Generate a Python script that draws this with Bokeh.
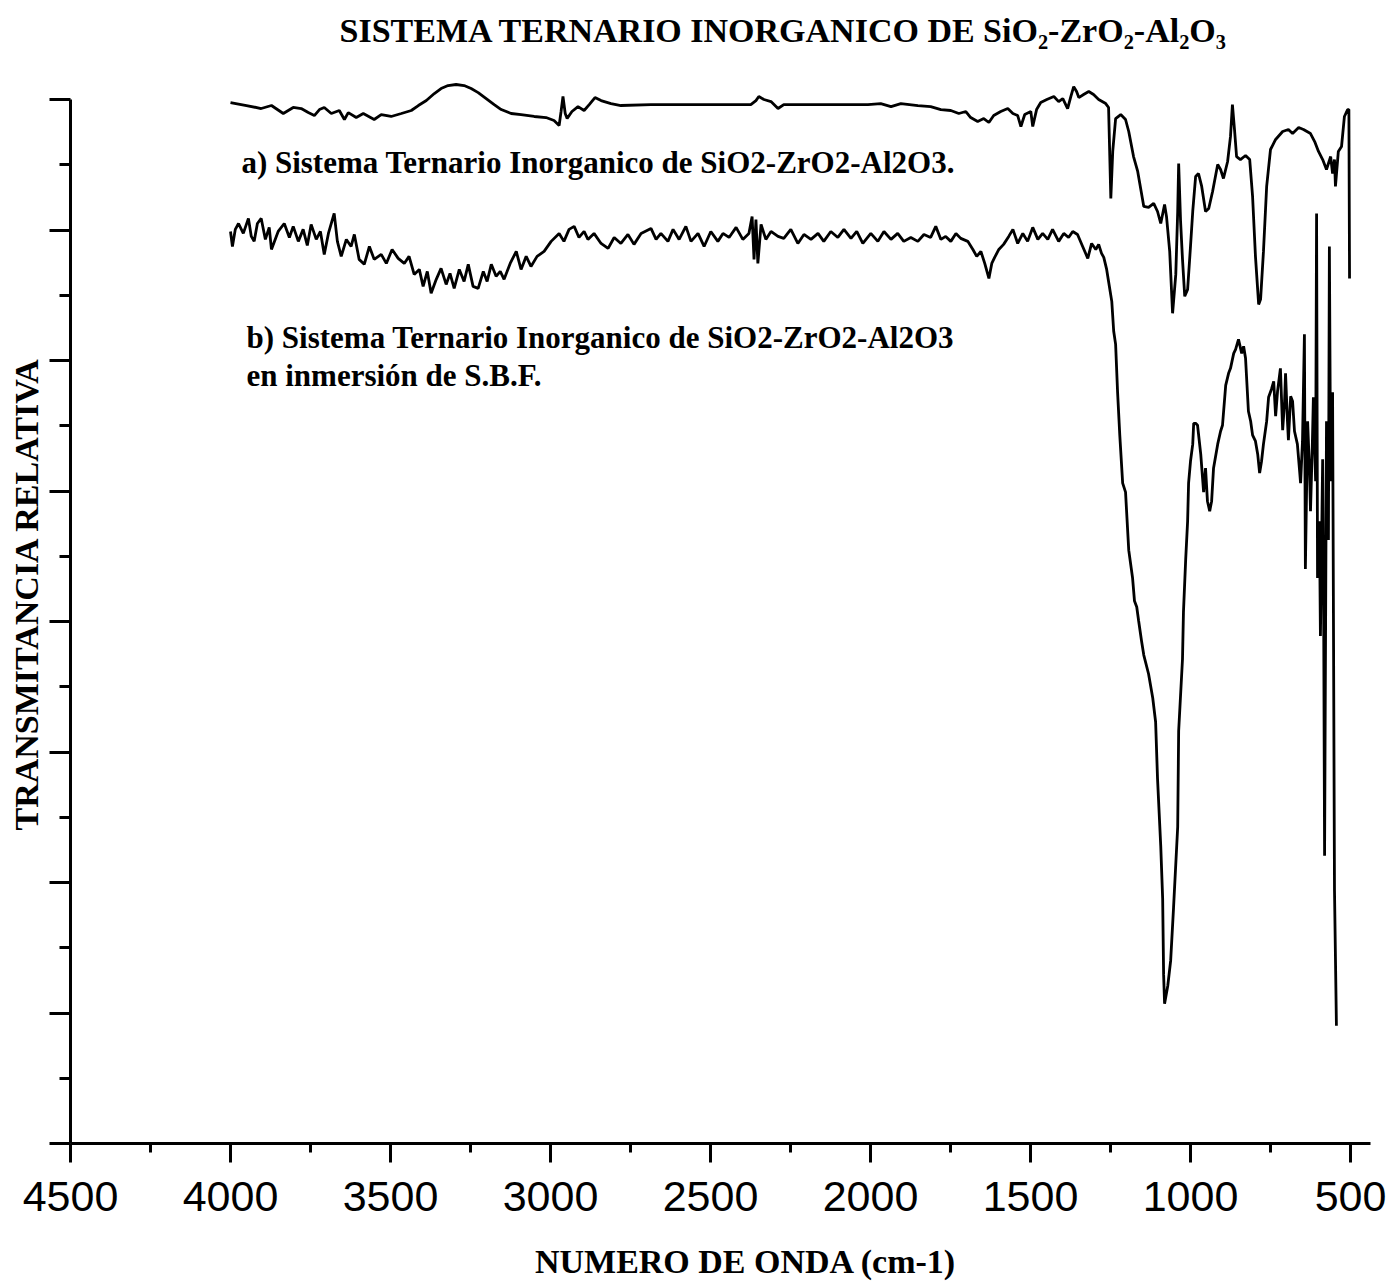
from bokeh.plotting import figure
from bokeh.models import FixedTicker, Label, Title, Range1d
from bokeh.embed import file_html
from bokeh.resources import INLINE

# ---- data ----
x_ticks = [4500, 4000, 3500, 3000, 2500, 2000, 1500, 1000, 500]
x_minor = [4250, 3750, 3250, 2750, 2250, 1750, 1250, 750]
y_ticks = [0, 10, 20, 30, 40, 50, 60, 70, 80]
y_minor = [5, 15, 25, 35, 45, 55, 65, 75]

# a) SiO2-ZrO2-Al2O3
wn_a = [4000, 3950, 3904, 3872, 3835, 3804, 3779, 3757, 3738, 3722, 3707, 3685, 3660, 3644, 3632,
        3607, 3585, 3551, 3529, 3498, 3466, 3435, 3413, 3388, 3363, 3342, 3320, 3295, 3270, 3248,
        3226, 3201, 3176, 3154, 3123, 3092, 3051, 3014, 2989, 2973, 2967, 2961, 2954, 2948, 2933,
        2914, 2895, 2879, 2861, 2842, 2811, 2780, 2686, 2530, 2374, 2358, 2349, 2333, 2311, 2289,
        2271, 2124, 2008, 1968, 1936, 1905, 1852, 1812, 1780, 1749, 1724, 1702, 1687, 1665, 1646,
        1630, 1615, 1593, 1571, 1555, 1540, 1530, 1518, 1499, 1493, 1481, 1468, 1449, 1427, 1412,
        1399, 1384, 1374, 1365, 1356, 1349, 1334, 1318, 1303, 1287, 1265, 1256, 1249, 1243, 1234,
        1218, 1203, 1193, 1178, 1165, 1146, 1131, 1115, 1103, 1093, 1081, 1075, 1065, 1056, 1046,
        1040, 1037, 1031, 1025, 1018, 1009, 1000, 993, 984, 975, 965, 953, 943, 931, 915,
        906, 897, 884, 875, 869, 862, 856, 844, 828, 815, 806, 797, 787, 781, 772,
        762, 750, 734, 712, 694, 681, 662, 647, 625, 612, 600, 587, 575, 562, 556,
        550, 547, 538, 528, 519, 509, 505, 503]
t_a = [79.77, 79.54, 79.31, 79.54, 78.93, 79.39, 79.31, 79.00, 78.77, 79.23, 79.39, 78.93, 79.16, 78.47, 79.00,
       78.62, 78.93, 78.47, 78.85, 78.70, 78.93, 79.16, 79.54, 79.92, 80.46, 80.84, 81.07, 81.15, 81.07, 80.84,
       80.53, 80.07, 79.61, 79.23, 78.93, 78.85, 78.70, 78.62, 78.39, 78.01, 79.08, 80.23, 78.93, 78.54, 79.08,
       79.46, 79.16, 79.61, 80.15, 79.92, 79.69, 79.54, 79.61, 79.61, 79.61, 79.92, 80.23, 80.00, 79.84, 79.31,
       79.61, 79.61, 79.61, 79.69, 79.46, 79.69, 79.54, 79.46, 79.23, 79.16, 78.93, 79.08, 78.62, 78.31, 78.54,
       78.24, 78.77, 79.08, 79.31, 78.93, 78.77, 77.93, 78.85, 79.08, 77.93, 79.23, 79.77, 80.00, 80.23, 79.84,
       80.07, 79.31, 80.23, 80.99, 80.61, 80.15, 80.38, 80.61, 80.38, 80.00, 79.69, 79.39, 72.42, 76.02, 78.54,
       78.85, 78.47, 77.55, 75.63, 74.49, 71.81, 71.73, 72.04, 71.42, 70.50, 71.96, 71.04, 68.36, 63.62, 66.60,
       71.42, 75.10, 70.66, 67.75, 64.92, 65.45, 68.74, 71.42, 74.10, 74.33, 73.34, 71.42, 71.65, 72.95, 75.02,
       74.64, 73.95, 75.25, 77.17, 79.61, 77.55, 75.63, 75.40, 75.71, 75.40, 72.57, 67.98, 64.30, 64.69, 68.36,
       73.34, 76.17, 76.94, 77.55, 77.70, 77.39, 77.85, 77.70, 77.39, 76.78, 76.02, 75.40, 74.64, 75.63, 74.33,
       75.40, 73.34, 76.02, 76.40, 78.70, 79.23, 79.23, 66.29]

# b) SiO2-ZrO2-Al2O3 after immersion in S.B.F.
wn_b = [4000, 3994, 3985, 3975, 3960, 3944, 3935, 3926, 3916, 3904, 3891, 3879, 3872, 3851, 3832,
        3816, 3804, 3788, 3773, 3760, 3748, 3732, 3719, 3707, 3694, 3676, 3666, 3654, 3638, 3623,
        3613, 3598, 3582, 3566, 3551, 3529, 3513, 3495, 3476, 3457, 3442, 3426, 3410, 3398, 3385,
        3373, 3357, 3342, 3326, 3314, 3301, 3285, 3270, 3257, 3242, 3226, 3210, 3198, 3185, 3170,
        3157, 3145, 3126, 3107, 3092, 3076, 3061, 3042, 3020, 2998, 2973, 2958, 2942, 2926, 2911,
        2895, 2883, 2864, 2842, 2820, 2801, 2780, 2758, 2739, 2717, 2686, 2670, 2655, 2633, 2617,
        2598, 2577, 2561, 2539, 2520, 2499, 2477, 2461, 2442, 2420, 2399, 2380, 2370, 2364, 2358,
        2352, 2342, 2327, 2311, 2289, 2271, 2249, 2227, 2208, 2186, 2164, 2146, 2124, 2102, 2083,
        2061, 2043, 2024, 1999, 1977, 1958, 1936, 1915, 1896, 1874, 1852, 1833, 1812, 1796, 1780,
        1765, 1749, 1733, 1718, 1696, 1680, 1668, 1655, 1643, 1630, 1621, 1612, 1599, 1584, 1568,
        1555, 1540, 1524, 1509, 1493, 1477, 1462, 1446, 1431, 1412, 1396, 1381, 1368, 1353, 1337,
        1321, 1309, 1296, 1287, 1278, 1271, 1262, 1256, 1246, 1240, 1234, 1228, 1221, 1212, 1203,
        1193, 1181, 1175, 1168, 1162, 1153, 1146, 1131, 1118, 1109, 1103, 1093, 1087, 1084, 1081,
        1071, 1062, 1053, 1040, 1037, 1025, 1022, 1015, 1009, 1006, 1000, 993, 990, 984, 978,
        968, 959, 953, 947, 940, 934, 928, 915, 906, 900, 890, 881, 875, 865, 859,
        850, 840, 834, 828, 819, 812, 806, 797, 790, 784, 778, 772, 762, 756, 747,
        740, 734, 728, 719, 712, 706, 703, 697, 694, 687, 681, 675, 666, 659, 656,
        650, 644, 641, 634, 628, 625, 619, 616, 609, 606, 603, 597, 594, 587, 584,
        581, 575, 569, 566, 562, 556, 550, 544]
t_b = [69.89, 68.74, 70.05, 70.50, 69.74, 70.89, 69.51, 69.13, 70.50, 70.89, 69.28, 70.20, 68.51, 69.89, 70.50,
       69.43, 70.28, 69.13, 70.05, 68.82, 70.43, 69.28, 69.89, 68.13, 69.74, 71.27, 69.13, 67.98, 69.28, 68.74,
       69.66, 67.75, 67.37, 68.74, 67.75, 68.13, 67.44, 68.51, 67.83, 67.44, 67.98, 66.60, 66.98, 65.68, 66.83,
       65.15, 66.22, 67.06, 65.83, 66.68, 65.53, 66.98, 66.06, 67.37, 65.68, 65.53, 66.83, 66.06, 67.37, 66.45,
       66.83, 66.22, 67.44, 68.36, 66.98, 67.98, 67.21, 67.98, 68.36, 69.13, 69.74, 69.13, 70.05, 70.28, 69.43,
       69.89, 69.28, 69.74, 68.97, 68.59, 69.43, 68.97, 69.66, 68.90, 69.74, 70.12, 69.28, 69.74, 69.13, 70.05,
       69.28, 70.28, 69.13, 69.74, 68.74, 69.89, 69.13, 69.74, 69.43, 70.20, 69.28, 69.74, 71.04, 67.75, 70.81,
       67.44, 70.43, 69.28, 69.89, 69.51, 69.36, 70.05, 68.97, 69.66, 69.28, 69.74, 69.13, 69.89, 69.43, 70.05,
       69.36, 69.89, 68.97, 69.74, 69.13, 69.89, 69.28, 69.74, 69.13, 69.43, 69.13, 69.66, 69.43, 70.28, 69.28,
       69.51, 69.13, 69.74, 69.36, 69.13, 68.51, 67.98, 68.36, 67.44, 66.29, 67.44, 67.90, 68.51, 68.90, 69.51,
       70.05, 68.97, 69.74, 69.13, 70.20, 69.28, 69.74, 69.28, 70.05, 69.13, 69.74, 69.43, 69.89, 69.66, 68.74,
       67.83, 68.97, 68.51, 68.90, 68.21, 67.90, 66.98, 66.06, 64.53, 62.24, 61.24, 57.64, 54.28, 50.60, 49.91,
       45.47, 43.33, 41.57, 41.11, 40.04, 38.51, 37.43, 35.98, 34.14, 32.30, 27.94, 22.81, 18.75, 12.94, 10.71,
       12.09, 14.01, 18.06, 24.27, 31.61, 37.13, 40.72, 44.78, 47.69, 50.60, 52.28, 53.59, 55.19, 55.19, 55.04,
       52.82, 49.91, 51.75, 49.22, 48.46, 49.22, 51.75, 53.59, 54.58, 55.04, 58.10, 59.02, 59.40, 60.55, 60.86,
       61.62, 60.55, 61.09, 60.17, 56.11, 55.35, 54.28, 53.82, 52.82, 51.37, 52.28, 53.59, 55.35, 57.18, 57.80,
       58.41, 55.73, 57.64, 59.40, 54.66, 56.88, 59.02, 55.35, 53.89, 57.26, 56.88, 54.58, 53.59, 51.52, 50.60,
       53.82, 62.01, 44.02, 55.35, 51.52, 48.46, 53.82, 57.18, 50.75, 71.27, 43.33, 47.69, 38.89, 52.44, 41.57,
       22.05, 55.35, 46.24, 68.74, 50.75, 57.57, 19.37, 9.03]

title_text = "SISTEMA TERNARIO INORGANICO DE SiO\u2082-ZrO\u2082-Al\u2082O\u2083"
label_a = "a) Sistema Ternario Inorganico de SiO2-ZrO2-Al2O3."
label_b1 = "b) Sistema Ternario Inorganico de SiO2-ZrO2-Al2O3"
label_b2 = "en inmersi\u00f3n de S.B.F."
x_label = "NUMERO DE ONDA (cm-1)"
y_label = "TRANSMITANCIA RELATIVA"

SERIF = "Liberation Serif"

p = figure(width=1393, height=1283, output_backend="svg", toolbar_location=None,
           x_range=Range1d(4500, 437.5), y_range=Range1d(0, 83.22),
           min_border_left=69, min_border_right=23, min_border_top=56, min_border_bottom=140)

p.title.text = title_text
p.title.text_font = SERIF
p.title.text_font_size = "34px"
p.title.text_font_style = "bold"
p.title.text_color = "black"
p.title.align = "left"
p.title.offset = 269
p.title.standoff = 18

p.xgrid.visible = False
p.ygrid.visible = False
p.outline_line_color = None
p.background_fill_color = "white"
p.border_fill_color = "white"

for ax in (p.xaxis[0], p.yaxis[0]):
    ax.axis_line_width = 3
    ax.axis_line_color = "black"
    ax.major_tick_line_width = 3
    ax.minor_tick_line_width = 3
    ax.major_tick_line_color = "black"
    ax.minor_tick_line_color = "black"
    ax.major_tick_in = 0
    ax.minor_tick_in = 0

p.xaxis.ticker = FixedTicker(ticks=x_ticks, minor_ticks=x_minor)
p.xaxis.major_tick_out = 19
p.xaxis.minor_tick_out = 9
p.xaxis.major_label_text_font = "Liberation Sans"
p.xaxis.major_label_text_font_size = "43px"
p.xaxis.major_label_text_color = "black"
p.xaxis.major_label_standoff = 19
# axis title: leading no-break spaces shift it right as in the reference
p.xaxis.axis_label = "\u00a0" * 6 + x_label
p.xaxis.axis_label_text_font = SERIF
p.xaxis.axis_label_text_font_style = "bold"
p.xaxis.axis_label_text_font_size = "34px"
p.xaxis.axis_label_text_color = "black"
p.xaxis.axis_label_standoff = 29

p.yaxis.ticker = FixedTicker(ticks=y_ticks, minor_ticks=y_minor)
p.yaxis.bounds = (0, 80)
p.yaxis.major_tick_out = 21
p.yaxis.minor_tick_out = 11
p.yaxis.major_label_overrides = {t: "" for t in y_ticks}
p.yaxis.major_label_standoff = 0

p.line(wn_a, t_a, line_width=2.8, color="black")
p.line(wn_b, t_b, line_width=2.8, color="black")

for txt, xx, yy in [(label_a, 3966, 75.17), (label_b1, 3950, 61.78), (label_b2, 3950, 58.87)]:
    p.add_layout(Label(x=xx, y=yy, text=txt, text_font=SERIF, text_font_style="bold",
                       text_font_size="31px", text_baseline="alphabetic", text_color="black"))

yt = Title(text=y_label, align="left", offset=313, standoff=10, text_font=SERIF,
           text_font_style="bold", text_font_size="34px", text_color="black")
p.add_layout(yt, "left")

open("out.html", "w").write(file_html(p, INLINE))
